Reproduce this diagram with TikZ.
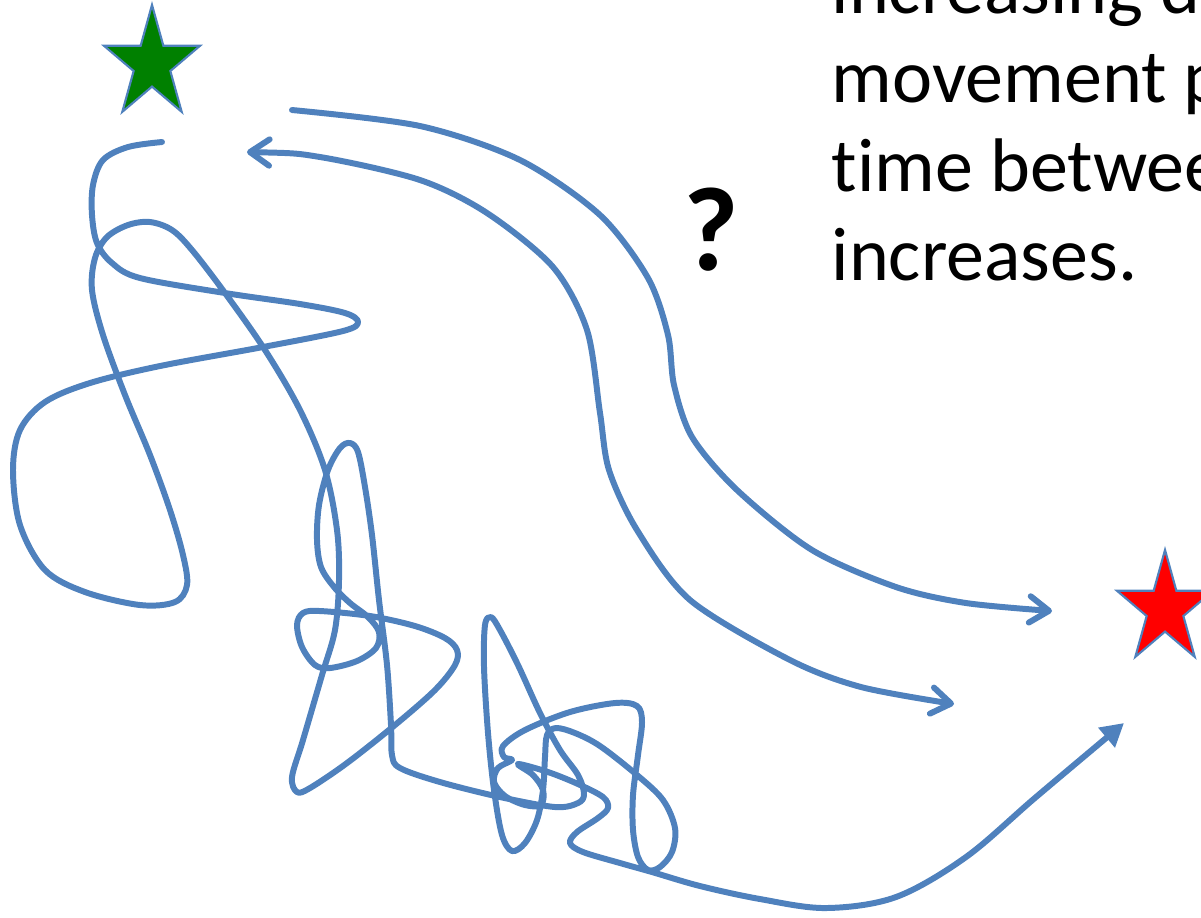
\documentclass[tikz,border=0pt]{standalone}
\usepackage{fontspec}
\setmainfont{Carlito}[Ligatures=NoCommon]
\usepackage{tikz}
\usetikzlibrary{arrows.meta, shapes.geometric}

\definecolor{pathblue}{RGB}{79,129,189}
\definecolor{stargreen}{RGB}{0,128,0}
\definecolor{starred}{RGB}{255,0,0}

\tikzset{
  track/.style={draw=pathblue, line width=1.7pt, line cap=round, line join=round},
  markstar/.style={star, star points=5, star point ratio=2.618, minimum size=1.01cm,
    inner sep=0pt, draw=pathblue, line width=0.6pt, yscale=1.17},
}

\begin{document}
\begin{tikzpicture}[x=0.01cm, y=-0.01cm, >={Straight Barb[length=5.5pt, width=7.5pt, round]}]
        \useasboundingbox (0,0) rectangle (1201,917);

        % start and goal
        \node[markstar, fill=stargreen] (start) at (152,64) {};
        \node[markstar, fill=starred] (goal) at (1165,609) {};

        \coordinate (walkA) at (162,142);
        \coordinate (walkB) at (1124,723);
        \coordinate (outerA) at (292,110);
        \coordinate (outerB) at (1052,611);
        \coordinate (innerA) at (247,152);
        \coordinate (innerB) at (954,704);

        % direct routes
        \draw[track, ->] plot[smooth] coordinates {(outerA) (420,126) (520,160) (600,215)
            (648,278) (668,335) (674,385) (692,437) (737,490) (812,550) (896,587) (966,603) (outerB)};
        \draw[track, <->] plot[smooth] coordinates {(innerA) (320,157) (420,180) (487,213)
            (553,267) (587,330) (600,413) (609,470) (637,530) (690,600) (790,660) (861,687) (innerB)};

        % random walk
        \draw[track, -{Triangle[length=6.5pt, width=7pt]}] plot[smooth, tension=0.55] coordinates {
            (walkA) (128,147) (103,160) (93,185) (92,215) (97,243) (112,263) (140,278)
            (225,293) (300,304) (345,313) (358,322) (343,331) (263,347) (160,366) (90,383)
            (45,402) (20,430) (13,470) (20,525) (45,570) (85,592) (140,605) (175,602)
            (187,585) (183,555) (170,510) (150,455) (125,395) (103,335) (92,290) (95,258)
            (107,237) (128,225) (150,222) (172,230) (192,250) (225,293) (265,350) (300,410)
            (325,470) (337,530) (339,580) (335,630) (322,675) (303,740) (292,777) (297,792)
            (310,788) (347,763) (395,725) (435,690) (455,665) (457,650) (445,638) (415,626)
            (370,616) (320,611) (303,613) (297,625) (302,647) (315,665) (330,668) (357,661)
            (376,648) (379,632) (368,617) (350,603) (334,587) (321,567) (317,540) (319,505)
            (328,470) (340,448) (350,443) (358,452) (365,487) (372,535) (379,600) (387,665)
            (391,725) (392,755) (400,768) (440,782) (500,797) (555,807) (578,803) (584,794)
            (578,775) (560,750) (540,713) (518,665) (500,630) (491,617) (485,625) (484,667)
            (488,733) (494,790) (502,835) (512,851) (525,843) (537,820) (543,790) (545,757)
            (547,735) (556,728) (575,733) (600,746) (637,775) (663,800) (675,828) (672,852)
            (660,867) (648,870) (638,857) (633,830) (633,795) (638,755) (642,722) (637,706)
            (615,703) (570,712) (525,730) (503,746) (504,757) (512,760) (498,768) (494,782)
            (505,796) (525,805) (541,805) (543,790) (533,775) (518,764) (548,772) (578,784)
            (603,797) (608,808) (598,818) (577,832) (570,843) (583,852) (620,863) (652,872)
            (700,886) (760,899) (826,908) (896,897) (966,857) (1036,797) (walkB)};

        \node[anchor=base, inner sep=0pt, font=\fontsize{34}{40}\selectfont\bfseries] (ask) at (711,270) {?};
        \node[anchor=base west, align=left, inner sep=0pt, font=\fontsize{21.6}{25.3}\selectfont] (note) at (831,280)
            {increasing d\\movement p\\time betwee\\increases.};
\end{tikzpicture}
\end{document}
